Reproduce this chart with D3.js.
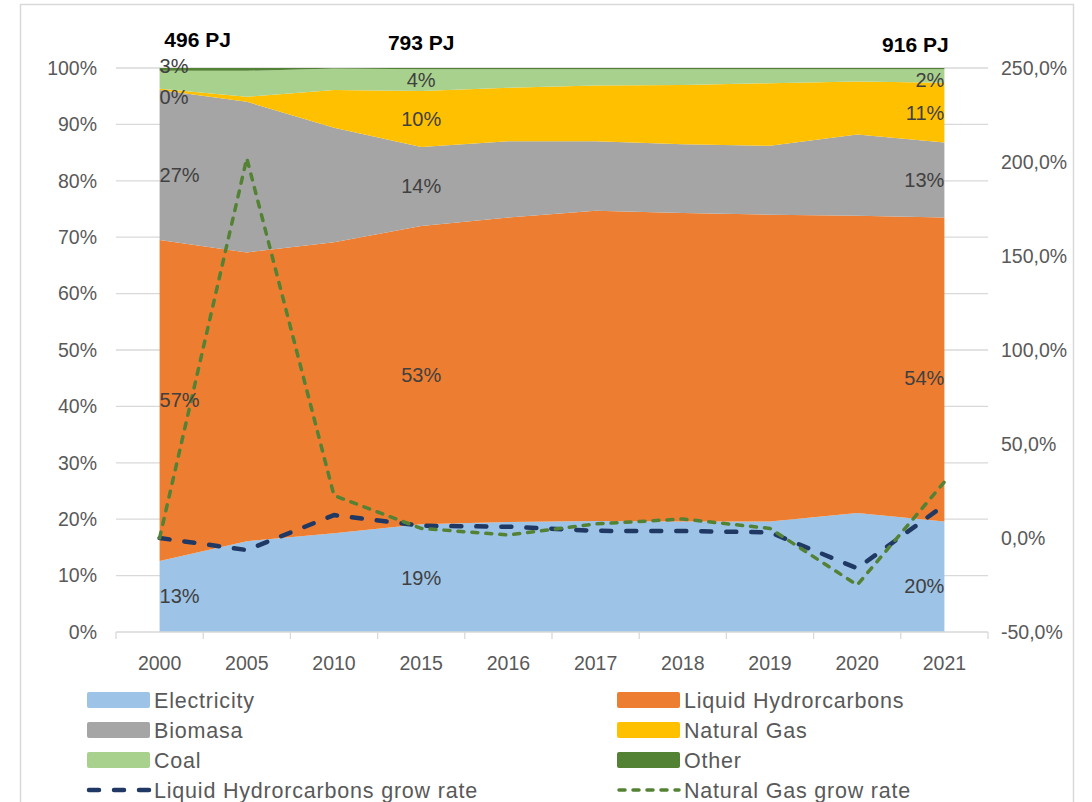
<!DOCTYPE html>
<html>
<head>
<meta charset="utf-8">
<script src="https://cdn.jsdelivr.net/npm/d3@7"></script>
<style>
  body { margin: 0; background: #fff; }
  svg { display: block; font-family: "Liberation Sans", Arial, sans-serif; }
</style>
</head>
<body>
<svg width="1092" height="802"></svg>
<script>
/* ================================ Data ================================*/
// Years (categories)
let years = ["2000", "2005", "2010", "2015", "2016", "2017", "2018", "2019", "2020", "2021"];

// Share of final energy consumption by source (%)
let electricity = [12.6, 16.1, 17.5, 19.1, 19.5, 19.7, 19.6, 19.6, 21.1, 19.6];
let liquidHC    = [56.9, 51.2, 51.6, 52.9, 54.0, 55.0, 54.7, 54.4, 52.7, 53.9];
let biomasa     = [26.6, 26.7, 20.3, 14.0, 13.5, 12.3, 12.2, 12.2, 14.4, 13.3];
let naturalGas  = [ 0.2,  0.9,  6.7,  9.9,  9.5,  9.9, 10.5, 11.1,  9.4, 10.6];
let coal        = [ 3.2,  4.6,  3.8,  3.9,  3.3,  2.9,  2.8,  2.5,  2.2,  2.4];
let other       = [ 0.5,  0.5,  0.1,  0.2,  0.2,  0.2,  0.2,  0.2,  0.2,  0.2];

// Growth rates (%), right axis
let liquidGrow = [0, -6.4, 12.2, 6.5, 6.0, 3.8, 3.7, 3.0, -16.1, 17.5];
let gasGrow    = [0, 202, 22.6, 5.1, 1.6, 7.5, 10.1, 5.1, -25, 29.8];

// Total consumption annotations
let totalYears  = ["2000", "2015", "2021"];
let totalValues = [496, 793, 916];

// Years whose data labels are shown
let labelYears = ["2000", "2015", "2021"];

// Axis ticks
let leftTicks  = [0, 0.1, 0.2, 0.3, 0.4, 0.5, 0.6, 0.7, 0.8, 0.9, 1];
let rightTicks = [-50, 0, 50, 100, 150, 200, 250];

let seriesNames  = ["Electricity", "Liquid Hydrorcarbons", "Biomasa", "Natural Gas", "Coal", "Other"];
let seriesValues = [electricity, liquidHC, biomasa, naturalGas, coal, other];
let seriesColors = ["#9DC3E6", "#ED7D31", "#A5A5A5", "#FFC000", "#A9D18E", "#548235"];

// Table for d3.stack (fractions)
let table = years.map((y, i) => {
    let row = { year: y };
    seriesNames.forEach((n, k) => row[n] = seriesValues[k][i] / 100);
    return row;
});

/* ================================ Setup ================================*/
let svg = d3.select("svg");

// outer chart border
svg.append("rect")
   .attr("x", 20.5).attr("y", 4.5)
   .attr("width", 1053).attr("height", 820)
   .attr("fill", "none")
   .attr("stroke", "#D9D9D9")
   .attr("stroke-width", 1.5);

let plotLeft = 116, plotRight = 988, plotTop = 68, plotBottom = 632;

let x = d3.scaleBand().domain(years).range([plotLeft, plotRight]).padding(0);
let cx = (y) => x(y) + x.bandwidth() / 2;

let yL = d3.scaleLinear().domain([0, 1]).range([plotBottom, plotTop]);
let yR = d3.scaleLinear().domain([-50, 250]).range([plotBottom, plotTop]);

// Gridlines
svg.append("g")
   .selectAll("line")
   .data(leftTicks.slice(1))
   .enter()
   .append("line")
   .attr("x1", plotLeft).attr("x2", plotRight)
   .attr("y1", d => yL(d)).attr("y2", d => yL(d))
   .attr("stroke", "#D9D9D9")
   .attr("stroke-width", 1.3);

/* ================================ Stacked areas ================================*/
let stack = d3.stack().keys(seriesNames);
let stacked = stack(table);

let area = d3.area()
    .x(d => cx(d.data.year))
    .y0(d => yL(d[0]))
    .y1(d => yL(d[1]));

svg.append("g")
   .selectAll("path")
   .data(stacked)
   .enter()
   .append("path")
   .attr("fill", (d, i) => seriesColors[i])
   .attr("d", area);

// x axis line + ticks at category boundaries
svg.append("line")
   .attr("x1", plotLeft).attr("x2", plotRight)
   .attr("y1", plotBottom).attr("y2", plotBottom)
   .attr("stroke", "#D9D9D9").attr("stroke-width", 1.3);

svg.append("g")
   .selectAll("line")
   .data(years.concat(["end"]))
   .enter()
   .append("line")
   .attr("x1", (d, i) => plotLeft + i * x.bandwidth())
   .attr("x2", (d, i) => plotLeft + i * x.bandwidth())
   .attr("y1", plotBottom).attr("y2", plotBottom + 7)
   .attr("stroke", "#D9D9D9").attr("stroke-width", 1.3);

/* ================================ Axes ================================*/
let xAxis = d3.axisBottom(x).tickSize(0).tickPadding(24);
let gx = svg.append("g").attr("transform", `translate(0, ${plotBottom})`).call(xAxis);

let leftAxis = d3.axisLeft(yL).tickValues(leftTicks).tickFormat(d3.format(".0%")).tickSize(0).tickPadding(19);
let gl = svg.append("g").attr("transform", `translate(${plotLeft}, 0)`).call(leftAxis);

// "250,0%" style, plain hyphen for negatives
let fmtRight = (d) => d.toFixed(1).replace(".", ",") + "%";
let rightAxis = d3.axisRight(yR).tickValues(rightTicks).tickFormat(fmtRight).tickSize(0).tickPadding(13);
let gr = svg.append("g").attr("transform", `translate(${plotRight}, 0)`).call(rightAxis);

[gx, gl, gr].forEach(g => {
    g.select(".domain").remove();
    g.selectAll("text")
     .attr("font-size", 19.5)
     .attr("font-family", "'Liberation Sans', Arial, sans-serif")
     .attr("fill", "#595959");
});

/* ================================ Growth lines ================================*/
let line = d3.line()
    .x((d, i) => cx(years[i]))
    .y(d => yR(d));

svg.append("path")
   .attr("d", line(liquidGrow))
   .attr("fill", "none")
   .attr("stroke", "#203864")
   .attr("stroke-width", 4.5)
   .attr("stroke-linecap", "round")
   .attr("stroke-linejoin", "round")
   .attr("stroke-dasharray", "10,15");

svg.append("path")
   .attr("d", line(gasGrow))
   .attr("fill", "none")
   .attr("stroke", "#548235")
   .attr("stroke-width", 3.5)
   .attr("stroke-linecap", "round")
   .attr("stroke-linejoin", "round")
   .attr("stroke-dasharray", "6,8");

/* ================================ Data labels ================================*/
// label alignment per year, plus a few manual nudges (like the original chart)
let labelAnchor = { "2000": "start", "2015": "middle", "2021": "end" };
let labelNudge  = { "2000-Biomasa": 10, "2000-Natural Gas": 8, "2000-Coal": -14,
                    "2021-Electricity": 9, "2021-Liquid Hydrorcarbons": 9, "2021-Coal": 4 };

let labels = svg.append("g");
stacked.forEach((s, k) => {
    if (seriesNames[k] === "Other") return;
    s.forEach(d => {
        let yr = d.data.year;
        if (labelYears.indexOf(yr) < 0) return;
        let nudge = labelNudge[yr + "-" + seriesNames[k]] || 0;
        labels.append("text")
              .attr("x", cx(yr))
              .attr("y", yL((d[0] + d[1]) / 2) + nudge)
              .attr("dy", "0.35em")
              .attr("text-anchor", labelAnchor[yr])
              .attr("font-size", 20)
              .attr("fill", "#404040")
              .text(Math.round((d[1] - d[0]) * 100) + "%");
    });
});

/* ================================ Totals ================================*/
let totalShift = { "2000": 38, "2015": 0, "2021": -29 };
let totalBase  = { "2000": 47, "2015": 50, "2021": 52 };

svg.append("g")
   .selectAll("text")
   .data(totalYears)
   .enter()
   .append("text")
   .attr("x", d => cx(d) + totalShift[d])
   .attr("y", d => totalBase[d])
   .attr("text-anchor", "middle")
   .attr("font-size", 21)
   .attr("font-weight", "bold")
   .attr("fill", "#000")
   .text((d, i) => totalValues[i] + " PJ");

/* ================================ Legend ================================*/
let legendItems = seriesNames.map((n, i) => ({ name: n, color: seriesColors[i], type: "area" }))
    .concat([
        { name: "Liquid Hydrorcarbons grow rate", color: "#203864", type: "long" },
        { name: "Natural Gas grow rate", color: "#548235", type: "dot" }
    ]);

let legend = svg.append("g");
legendItems.forEach((item, i) => {
    let col = i % 2, row = Math.floor(i / 2);
    let lx = col === 0 ? 87 : 617;
    let ly = 700 + row * 30;
    let g = legend.append("g").attr("transform", `translate(${lx}, ${ly})`);
    if (item.type === "area") {
        g.append("rect")
         .attr("x", 0).attr("y", -8)
         .attr("width", 63).attr("height", 16)
         .attr("rx", 2)
         .attr("fill", item.color);
    } else if (item.type === "long") {
        g.append("line")
         .attr("x1", 2).attr("x2", 62).attr("y1", 0).attr("y2", 0)
         .attr("stroke", item.color).attr("stroke-width", 4.5)
         .attr("stroke-linecap", "round")
         .attr("stroke-dasharray", "10,15");
    } else {
        g.append("line")
         .attr("x1", 2).attr("x2", 62).attr("y1", 0).attr("y2", 0)
         .attr("stroke", item.color).attr("stroke-width", 3.5)
         .attr("stroke-linecap", "round")
         .attr("stroke-dasharray", "6,8");
    }
    g.append("text")
     .attr("x", 67).attr("y", 0)
     .attr("dy", "0.35em")
     .attr("font-size", 21.5)
     .attr("letter-spacing", 0.8)
     .attr("fill", "#595959")
     .text(item.name);
});
</script>
</body>
</html>
